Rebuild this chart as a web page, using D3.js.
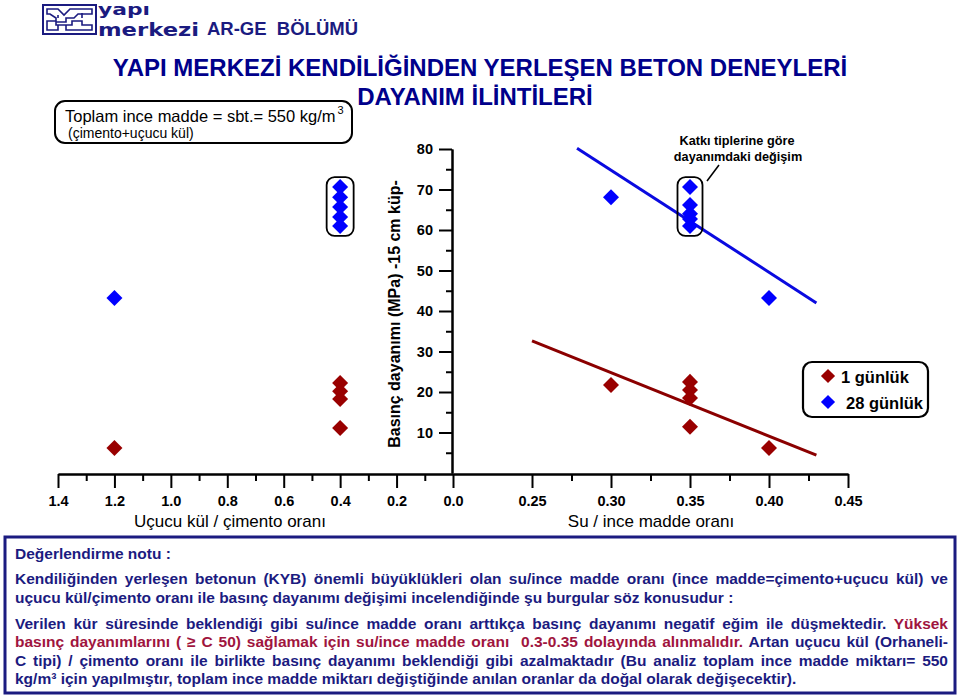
<!DOCTYPE html>
<html><head><meta charset="utf-8">
<script src="https://cdn.jsdelivr.net/npm/d3@7"></script>
<style>body{margin:0;background:#fff}svg{display:block}text{font-family:"Liberation Sans",Arial,sans-serif}</style>
</head><body>
<script>
// ---------- data ----------
const faTicks = [1.4, 1.2, 1.0, 0.8, 0.6, 0.4, 0.2, 0.0];
const faMinor = [1.3, 1.1, 0.9, 0.7, 0.5, 0.3, 0.1];
const wbTicks = [0.25, 0.30, 0.35, 0.40, 0.45];
const wbMinor = [0.275, 0.325, 0.375, 0.425];
const yTicks = [10, 20, 30, 40, 50, 60, 70, 80];
const yMinor = [5, 15, 25, 35, 45, 55, 65, 75];

const seriesNames = ["1 günlük", "28 günlük"];
// left panel: fly ash / cement ratio
const fa1 = [1.2, 0.4, 0.4, 0.4, 0.4];
const fa1Str = [6.2, 22.2, 20.2, 18.3, 11.1];
const fa28 = [1.2, 0.4, 0.4, 0.4, 0.4, 0.4];
const fa28Str = [43.2, 70.6, 68.1, 65.7, 63.2, 61.0];
// right panel: water / binder ratio
const wb1 = [0.30, 0.35, 0.35, 0.35, 0.35, 0.40];
const wb1Str = [21.7, 22.5, 20.5, 18.5, 11.4, 6.2];
const wb28 = [0.30, 0.35, 0.35, 0.35, 0.35, 0.35, 0.40];
const wb28Str = [68.1, 70.6, 66.2, 64.0, 62.7, 61.0, 43.2];
// trend lines
const fit1X = [0.25, 0.430], fit1Y = [32.6, 4.4];
const fit28X = [0.2785, 0.430], fit28Y = [80.2, 42.0];

const noteLines = [
  [["Değerlendirme notu :", "n"]],
  [["Kendiliğinden yerleşen betonun (KYB) önemli büyüklükleri olan su/ince madde oranı (ince madde=çimento+uçucu kül) ve", "n"]],
  [["uçucu kül/çimento oranı ile basınç dayanımı değişimi incelendiğinde şu burgular söz konusudur :", "n"]],
  [["Verilen kür süresinde beklendiği gibi su/ince madde oranı arttıkça basınç dayanımı negatif eğim ile düşmektedir. ", "n"], ["Yüksek", "r"]],
  [["basınç dayanımlarını ( ≥ C 50) sağlamak için su/ince madde oranı  0.3-0.35 dolayında alınmalıdır.", "r"], [" Artan uçucu kül (Orhaneli-", "n"]],
  [["C tipi) / çimento oranı ile birlikte basınç dayanımı beklendiği gibi azalmaktadır (Bu analiz toplam ince madde miktarı= 550", "n"]],
  [["kg/m³ için yapılmıştır, toplam ince madde miktarı değiştiğinde anılan oranlar da doğal olarak değişecektir).", "n"]]
];
const noteJustify = [false, true, false, true, true, true, false];

// ---------- layout ----------
const W = 960, H = 696;
const NAVY = "#1b1b80", RED = "#a0153e", TITLE = "#00008b";
const C1 = "#990000", C28 = "#0000ff", L1C = "#8b0000", L28C = "#0a0ae0";

const svg = d3.select("body").append("svg").attr("width", W).attr("height", H);

const xL = d3.scaleLinear().domain([1.4, 0]).range([58, 453]);
const xR = d3.scaleLinear().domain([0.2, 0.45]).range([453, 848]);
const y = d3.scaleLinear().domain([0, 80]).range([473, 149]);

// ---------- header ----------
const logo = svg.append("g").attr("stroke", NAVY).attr("fill", "none").attr("stroke-width", 2);
logo.append("rect").attr("x", 43).attr("y", 5).attr("width", 53).attr("height", 29);
logo.append("path").attr("stroke-width", 1.6).attr("d",
  "M47,9H58L64,15L70,9H92V14H78L74,18H66V22H56V18L50,14H47Z M47,30H58V25H66V30H92V25H82V21H72V25H56V21H47Z M58,15V18 M82,13V18");
svg.append("text").attr("x", 98).attr("y", 15).attr("fill", NAVY)
  .style("font-family", "'DejaVu Sans',sans-serif").attr("font-weight", "bold").attr("font-size", 16)
  .attr("textLength", 52).attr("lengthAdjust", "spacingAndGlyphs").text("yapı");
svg.append("text").attr("x", 98).attr("y", 36).attr("fill", NAVY)
  .style("font-family", "'DejaVu Sans',sans-serif").attr("font-weight", "bold").attr("font-size", 17.5)
  .attr("textLength", 101).attr("lengthAdjust", "spacingAndGlyphs").text("merkezi");
svg.append("text").attr("x", 207).attr("y", 35).attr("fill", NAVY)
  .attr("font-weight", "bold").attr("font-size", 17.5).style("white-space", "pre")
  .attr("textLength", 151).attr("lengthAdjust", "spacingAndGlyphs").text("AR-GE  BÖLÜMÜ");

svg.append("text").attr("x", 480).attr("y", 76).attr("text-anchor", "middle").attr("fill", TITLE)
  .attr("font-weight", "bold").attr("font-size", 24)
  .text("YAPI MERKEZİ KENDİLİĞİNDEN YERLEŞEN BETON DENEYLERİ");
svg.append("text").attr("x", 475).attr("y", 105).attr("text-anchor", "middle").attr("fill", TITLE)
  .attr("font-weight", "bold").attr("font-size", 24).text("DAYANIM İLİNTİLERİ");

// total binder box
svg.append("rect").attr("x", 55).attr("y", 101).attr("width", 297).attr("height", 42).attr("rx", 10)
  .attr("fill", "none").attr("stroke", "#000").attr("stroke-width", 2);
const tb = svg.append("text").attr("x", 65).attr("y", 122).attr("font-size", 16.5).attr("fill", "#000");
tb.append("tspan").text("Toplam ince madde = sbt.= 550 kg/m");
tb.append("tspan").attr("font-size", 11).attr("dy", -8).attr("dx", 2).text("3");
svg.append("text").attr("x", 68).attr("y", 138).attr("font-size", 14).attr("fill", "#000").text("(çimento+uçucu kül)");

// ---------- axes ----------
function styleAxis(g) {
  g.selectAll("path,line").attr("stroke", "#000").attr("stroke-width", 2);
  g.selectAll("text").attr("font-size", 14.5).attr("font-weight", "bold").attr("fill", "#000")
    .style("font-family", "'Liberation Sans',Arial,sans-serif");
}
const axY = 474;
svg.append("g").attr("transform", `translate(0,${axY})`)
  .call(d3.axisBottom(xL).tickValues(faMinor).tickSize(7).tickSizeOuter(0).tickFormat(""))
  .call(styleAxis);
svg.append("g").attr("transform", `translate(0,${axY})`)
  .call(d3.axisBottom(xL).tickValues(faTicks).tickSize(14).tickSizeOuter(0).tickPadding(8).tickFormat(d3.format(".1f")))
  .call(styleAxis);
svg.append("g").attr("transform", `translate(0,${axY})`)
  .call(d3.axisBottom(xR).tickValues(wbMinor).tickSize(7).tickSizeOuter(0).tickFormat(""))
  .call(styleAxis);
svg.append("g").attr("transform", `translate(0,${axY})`)
  .call(d3.axisBottom(xR).tickValues(wbTicks).tickSize(14).tickSizeOuter(0).tickPadding(8).tickFormat(d3.format(".2f")))
  .call(styleAxis);

svg.append("g").attr("transform", `translate(452,0)`)
  .call(d3.axisLeft(y).tickValues(yMinor).tickSize(6).tickSizeOuter(0).tickFormat(""))
  .call(styleAxis);
svg.append("g").attr("transform", `translate(452,0)`)
  .call(d3.axisLeft(y).tickValues(yTicks).tickSize(13).tickSizeOuter(0).tickPadding(6))
  .call(styleAxis);

svg.append("text").attr("transform", `translate(400,${314}) rotate(-90)`).attr("text-anchor", "middle")
  .attr("font-size", 16).attr("font-weight", "bold").attr("fill", "#000")
  .text("Basınç dayanımı (MPa) -15 cm küp-");
svg.append("text").attr("x", 230).attr("y", 527).attr("text-anchor", "middle").attr("font-size", 17)
  .attr("fill", "#000").text("Uçucu kül / çimento oranı");
svg.append("text").attr("x", 651).attr("y", 527).attr("text-anchor", "middle").attr("font-size", 17)
  .attr("fill", "#000").text("Su / ince madde oranı");

// ---------- trend lines ----------
const line = d3.line().x(d => xR(d[0])).y(d => y(d[1]));
svg.append("path").attr("d", line(d3.zip(fit28X, fit28Y))).attr("stroke", L28C).attr("stroke-width", 3).attr("fill", "none");
svg.append("path").attr("d", line(d3.zip(fit1X, fit1Y))).attr("stroke", L1C).attr("stroke-width", 3).attr("fill", "none");

// ---------- cluster boxes ----------
function clusterBox(cx, vals, halfW) {
  const top = y(d3.max(vals)) - 10, bot = y(d3.min(vals)) + 10;
  svg.append("rect").attr("x", cx - halfW).attr("y", top).attr("width", 2 * halfW).attr("height", bot - top)
    .attr("rx", 8).attr("fill", "none").attr("stroke", "#000").attr("stroke-width", 1.8);
}
clusterBox(xL(0.4), fa28Str.slice(1), 13.5);
clusterBox(xR(0.35), wb28Str.slice(1, 6), 12.5);

// ---------- points ----------
const diamond = d3.symbol().type(d3.symbolSquare).size(128);
function pts(xs, ys, xScale, color) {
  svg.append("g").selectAll("path").data(d3.zip(xs, ys)).join("path")
    .attr("d", diamond)
    .attr("transform", d => `translate(${xScale(d[0])},${y(d[1])}) rotate(45)`)
    .attr("fill", color);
}
pts(fa1, fa1Str, xL, C1);
pts(fa28, fa28Str, xL, C28);
pts(wb1, wb1Str, xR, C1);
pts(wb28, wb28Str, xR, C28);

// annotation
const ax = xR(0.35);
svg.append("line").attr("x1", ax + 17).attr("y1", 181).attr("x2", ax + 29).attr("y2", 165)
  .attr("stroke", "#000").attr("stroke-width", 1.5);
svg.append("text").attr("x", 737).attr("y", 145).attr("text-anchor", "middle").attr("font-size", 12.7)
  .attr("font-weight", "bold").attr("fill", "#000").text("Katkı tiplerine göre");
svg.append("text").attr("x", 738).attr("y", 161).attr("text-anchor", "middle").attr("font-size", 12.7)
  .attr("font-weight", "bold").attr("fill", "#000").text("dayanımdaki değişim");

// ---------- legend ----------
svg.append("rect").attr("x", 803).attr("y", 362).attr("width", 125).attr("height", 55).attr("rx", 9)
  .attr("fill", "#fff").attr("stroke", "#000").attr("stroke-width", 2.2);
const legSym = d3.symbol().type(d3.symbolSquare).size(100);
[[C1, 376, 841], [C28, 402, 846]].forEach((d, i) => {
  svg.append("path").attr("d", legSym).attr("transform", `translate(828,${d[1]}) rotate(45)`).attr("fill", d[0]);
  svg.append("text").attr("x", d[2]).attr("y", d[1] + 7).attr("font-size", 16.5).attr("font-weight", "bold")
    .attr("fill", "#000").text(seriesNames[i]);
});

// ---------- evaluation note ----------
svg.append("rect").attr("x", 5).attr("y", 537).attr("width", 950).attr("height", 156)
  .attr("fill", "none").attr("stroke", NAVY).attr("stroke-width", 3);
const lineY = [559, 584, 603, 629, 647, 666, 684];
noteLines.forEach((segs, i) => {
  const t = svg.append("text").attr("x", 15).attr("y", lineY[i]).attr("font-size", 15.5)
    .attr("font-weight", "bold").style("white-space", "pre");
  segs.forEach(s => t.append("tspan").attr("fill", s[1] === "r" ? RED : NAVY).text(s[0]));
  if (noteJustify[i]) {
    const txt = segs.map(s => s[0]).join("");
    const spaces = (txt.match(/ /g) || []).length;
    const w = t.node().getComputedTextLength();
    const ws = (948 - 15 - w) / spaces;
    t.style("word-spacing", ws + "px");
  }
});
</script>
</body></html>
